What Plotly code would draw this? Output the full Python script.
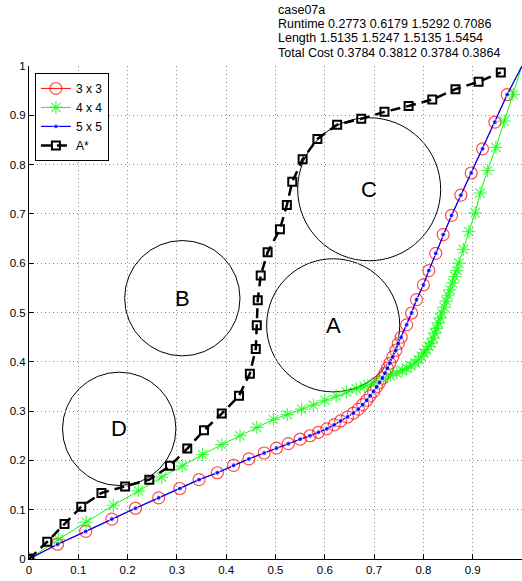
import plotly.graph_objects as go

# ---------------- data ----------------
x3 = [0, 0.058, 0.115, 0.168, 0.216, 0.263, 0.306, 0.345, 0.382, 0.415, 0.446, 0.477, 0.502,
      0.526, 0.550, 0.570, 0.587, 0.604, 0.619, 0.632, 0.646, 0.658, 0.668, 0.677, 0.685, 0.692,
      0.699, 0.705, 0.711, 0.717, 0.722, 0.727, 0.732, 0.738, 0.744, 0.749, 0.755, 0.766, 0.776,
      0.786, 0.800, 0.811, 0.825, 0.840, 0.857, 0.876, 0.897, 0.920, 0.945, 0.970, 1.0]
y3 = [0, 0.030, 0.056, 0.081, 0.103, 0.124, 0.143, 0.161, 0.175, 0.190, 0.203, 0.215, 0.225,
      0.234, 0.243, 0.250, 0.257, 0.264, 0.272, 0.280, 0.288, 0.296, 0.304, 0.313, 0.322, 0.331,
      0.340, 0.349, 0.358, 0.367, 0.377, 0.387, 0.397, 0.410, 0.423, 0.437, 0.450, 0.475, 0.499,
      0.526, 0.556, 0.585, 0.620, 0.658, 0.697, 0.738, 0.783, 0.832, 0.886, 0.942, 1.0]

x4 = [0, 0.060, 0.116, 0.171, 0.222, 0.269, 0.311, 0.352, 0.391, 0.428, 0.462, 0.496, 0.524,
      0.553, 0.577, 0.600, 0.623, 0.644, 0.664, 0.680, 0.695, 0.708, 0.719, 0.733, 0.746, 0.757,
      0.766, 0.775, 0.783, 0.790, 0.796, 0.801, 0.806, 0.811, 0.816, 0.820, 0.823, 0.827, 0.830,
      0.834, 0.837, 0.842, 0.846, 0.850, 0.854, 0.859, 0.864, 0.868, 0.872, 0.881, 0.892, 0.905,
      0.915, 0.930, 0.947, 0.964, 0.982, 1.0]
y4 = [0, 0.040, 0.075, 0.109, 0.138, 0.166, 0.189, 0.212, 0.232, 0.250, 0.267, 0.283, 0.293,
      0.304, 0.312, 0.322, 0.331, 0.339, 0.345, 0.350, 0.355, 0.360, 0.366, 0.372, 0.377, 0.382,
      0.387, 0.392, 0.398, 0.404, 0.411, 0.418, 0.425, 0.431, 0.438, 0.448, 0.458, 0.468, 0.479,
      0.489, 0.499, 0.511, 0.523, 0.535, 0.546, 0.560, 0.573, 0.585, 0.600, 0.628, 0.664, 0.702,
      0.742, 0.788, 0.835, 0.888, 0.942, 1.0]

x5 = list(x3)
y5 = list(y3)

xa = [0, 0.037, 0.072, 0.106, 0.147, 0.195, 0.244, 0.286, 0.321, 0.355, 0.391, 0.426, 0.448,
      0.460, 0.462, 0.464, 0.470, 0.484, 0.509, 0.523, 0.534, 0.555, 0.585, 0.625, 0.674, 0.721,
      0.770, 0.818, 0.865, 0.912, 0.957]
ya = [0, 0.035, 0.071, 0.106, 0.134, 0.147, 0.161, 0.189, 0.224, 0.261, 0.295, 0.331, 0.376,
      0.426, 0.474, 0.525, 0.575, 0.622, 0.669, 0.718, 0.765, 0.811, 0.852, 0.881, 0.893, 0.907,
      0.919, 0.932, 0.953, 0.968, 0.987]

obs_names = ["A", "B", "C", "D"]
obs_x = [0.617, 0.311, 0.690, 0.183]
obs_y = [0.474, 0.529, 0.750, 0.264]
obs_r = [0.135, 0.117, 0.145, 0.115]

title_lines = ["case07a",
               "Runtime 0.2773 0.6179 1.5292 0.7086",
               "Length 1.5135 1.5247 1.5135 1.5454",
               "Total Cost 0.3784 0.3812 0.3784 0.3864"]

ticks = [0, 0.1, 0.2, 0.3, 0.4, 0.5, 0.6, 0.7, 0.8, 0.9, 1]
tick_text = ["0", "0.1", "0.2", "0.3", "0.4", "0.5", "0.6", "0.7", "0.8", "0.9", "1"]

FONT = "Liberation Sans, Arial, Helvetica, sans-serif"


def sizes(n, s):
    # marker drawn on every point except the goal corner
    return [s] * (n - 1) + [0]


fig = go.Figure()

fig.add_trace(go.Scatter(x=x3, y=y3, name="3 x 3", mode="lines+markers",
                         line=dict(color="#ff0000", width=1),
                         marker=dict(symbol="circle-open", size=sizes(len(x3), 12), color="#ff0000",
                                     line=dict(width=1.2, color="#ff0000"))))
fig.add_trace(go.Scatter(x=x4, y=y4, name="4 x 4", mode="lines+markers",
                         line=dict(color="#00ff00", width=1),
                         marker=dict(symbol="asterisk-open", size=sizes(len(x4), 11), color="#00ff00",
                                     line=dict(width=1.2, color="#00ff00"))))
fig.add_trace(go.Scatter(x=x5, y=y5, name="5 x 5", mode="lines+markers",
                         line=dict(color="#0000ff", width=1.2),
                         marker=dict(symbol="circle", size=sizes(len(x5), 5), color="#0000ff")))
fig.add_trace(go.Scatter(x=xa, y=ya, name="A*", mode="lines+markers",
                         line=dict(color="#000000", width=2.5, dash="10px,6px"),
                         marker=dict(symbol="square-open", size=8, color="#000000",
                                     line=dict(width=2, color="#000000"))))

for n, cx, cy, r in zip(obs_names, obs_x, obs_y, obs_r):
    fig.add_shape(type="circle", xref="x", yref="y", x0=cx - r, x1=cx + r, y0=cy - r, y1=cy + r,
                  line=dict(color="#000000", width=1), layer="below")
    fig.add_annotation(x=cx, y=cy, text=n, showarrow=False, xref="x", yref="y",
                       font=dict(family=FONT, size=22, color="#000000"))

line_px = [10, 24.3, 38.6, 52.9]
for t, py in zip(title_lines, line_px):
    fig.add_annotation(x=0.5, xref="paper", xanchor="left",
                       y=(559.3 - py) / 493.0, yref="paper", yanchor="middle",
                       text=t, showarrow=False,
                       font=dict(family=FONT, size=12.5, color="#000000"))

axis_common = dict(range=[0, 1], tickvals=ticks, ticktext=tick_text, showgrid=True,
                   gridcolor="#8a8a8a", griddash="1px,3px", gridwidth=1, zeroline=False,
                   showline=True, linecolor="#000000", linewidth=1, ticks="inside",
                   ticklen=5, tickcolor="#000000", mirror=False, automargin=False,
                   tickfont=dict(family=FONT, size=11.5, color="#000000"))

fig.update_xaxes(**axis_common)
fig.update_yaxes(**axis_common)

fig.update_layout(width=522, height=581, margin=dict(l=29, r=0, t=66, b=22, pad=0),
                  plot_bgcolor="white", paper_bgcolor="white",
                  font=dict(family=FONT, size=12, color="#000000"),
                  showlegend=True,
                  legend=dict(x=0.012, y=0.986, xanchor="left", yanchor="top",
                              bgcolor="white", bordercolor="#000000", borderwidth=1,
                              font=dict(family=FONT, size=12, color="#000000"),
                              tracegroupgap=0, itemwidth=30))

fig.write_html("out.html", config={"displayModeBar": False},
               post_script="document.body.style.margin='0';document.body.style.overflow='hidden';"
                           "document.documentElement.style.overflow='hidden';")
